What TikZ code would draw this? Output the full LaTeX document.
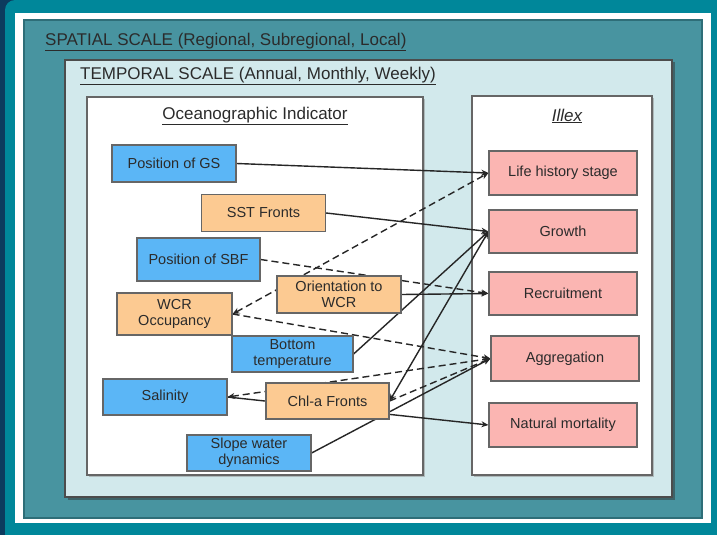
\documentclass[tikz,border=0pt]{standalone}
\usepackage{fontspec}
\setmainfont{Liberation Sans}
\usetikzlibrary{arrows.meta,shadows}
\definecolor{navy}{HTML}{0C3B5E}
\definecolor{tealout}{HTML}{00879A}
\definecolor{midteal}{HTML}{4894A0}
\definecolor{darkteal}{HTML}{2E6E78}
\definecolor{lightpanel}{HTML}{D2E9EC}
\definecolor{physblue}{HTML}{5BB6F6}
\definecolor{derived}{HTML}{FCCA92}
\definecolor{bio}{HTML}{FBB5B2}
\definecolor{boxline}{HTML}{666666}
\definecolor{txt}{HTML}{2B2B2B}
\pgfdeclarelayer{panels}
\pgfdeclarelayer{links}
\pgfsetlayers{panels,links,main}
\tikzset{
  >={Stealth[length=7pt,width=6pt]},
  box/.style={draw=boxline, line width=1.2pt, text=txt, align=center,
    font=\fontsize{14.5}{16}\selectfont, inner sep=1pt},
  phys/.style={box, fill=physblue, minimum width=124pt, minimum height=37pt},
  deriv/.style={box, fill=derived, minimum width=124pt, minimum height=37pt},
  resp/.style={box, fill=bio, minimum width=148pt, minimum height=44pt},
  panel/.style={fill=white, draw=boxline, line width=1.3pt,
    drop shadow={shadow xshift=2pt, shadow yshift=-2pt, fill=black!45}},
  heading/.style={text=txt, font=\fontsize{17}{19}\selectfont, inner sep=0pt},
  link/.style={draw=black!85, line width=1.4pt, ->},
  dlink/.style={link, dash pattern=on 7pt off 4pt}
}

\begin{document}
\begin{tikzpicture}[x=1pt,y=-1pt]
\useasboundingbox (0,0) rectangle (717,535);
\begin{pgfonlayer}{panels}
\fill[navy] (0,0) rectangle (717,535);
\fill[tealout, rounded corners=10pt] (5,0) rectangle (740,560);
\fill[white] (15,13) rectangle (711,523);
\filldraw[fill=midteal, draw=darkteal, line width=1.5pt] (24,20) rectangle (702,518);
\filldraw[fill=lightpanel, draw=black!70, line width=1.3pt,
  drop shadow={shadow xshift=2.5pt, shadow yshift=-2.5pt, fill=black!80}] (65,60) rectangle (672,497);
\filldraw[panel] (87,97) rectangle (423,475);
\filldraw[panel] (472,96) rectangle (652,475);
\end{pgfonlayer}

\node[heading, anchor=west] (spatial) at (45,42) {\underline{SPATIAL SCALE (Regional, Subregional, Local)}};
\node[heading, anchor=west] (temporal) at (80,76) {\underline{TEMPORAL SCALE (Annual, Monthly, Weekly)}};
\node[heading] (ocean) at (255,116) {\underline{Oceanographic Indicator}};
\node[heading] (illex) at (567,116) {\underline{\itshape Illex}};

\node[phys] (gs) at (174,163.5) {Position of GS};
\node[deriv] (sst) at (263.5,213) {SST Fronts};
\node[phys, minimum width=123pt, minimum height=43pt] (sbf) at (198.5,259.5) {Position of SBF};
\node[deriv] (orient) at (339,294.5) {Orientation to\\WCR};
\node[deriv, minimum width=115pt, minimum height=42pt] (wcr) at (174.5,314) {WCR\\Occupancy};
\node[phys, minimum width=121pt, minimum height=36pt] (btemp) at (292.5,354) {Bottom\\temperature};
\node[phys, minimum height=36pt] (sal) at (165,397) {Salinity};
\node[deriv, minimum width=123pt, minimum height=36pt] (chla) at (327.5,401) {Chl-a Fronts};
\node[phys, minimum height=36pt] (slope) at (249,453) {Slope water\\dynamics};

\node[resp] (life) at (563,173) {Life history stage};
\node[resp, minimum height=43pt] (growth) at (563,231.5) {Growth};
\node[resp, minimum height=43pt] (recruit) at (563,293.5) {Recruitment};
\node[resp, minimum height=45pt] (aggr) at (565,358.5) {Aggregation};
\node[resp] (mort) at (563,425) {Natural mortality};

\begin{pgfonlayer}{links}
\draw[link] (gs.east) -- (life.west);
\draw[link] (sst.east) -- (growth.west);
\draw[dlink] (sbf.east) -- (recruit.west);
\draw[link] (orient.east) -- (recruit.west);
\draw[dlink, <->] (wcr.east) -- (life.west);
\draw[dlink] (wcr.east) -- (aggr.west);
\draw[link] (btemp.east) -- (growth.west);
\draw[link, <->] (chla.east) -- (growth.west);
\draw[dlink, <->] (sal.east) -- (aggr.west);
\draw[dlink] (chla.east) -- (aggr.west);
\draw[link] (slope.east) -- (aggr.west);
\draw[link] (sal.east) -- (mort.west);
\end{pgfonlayer}
\end{tikzpicture}
\end{document}
